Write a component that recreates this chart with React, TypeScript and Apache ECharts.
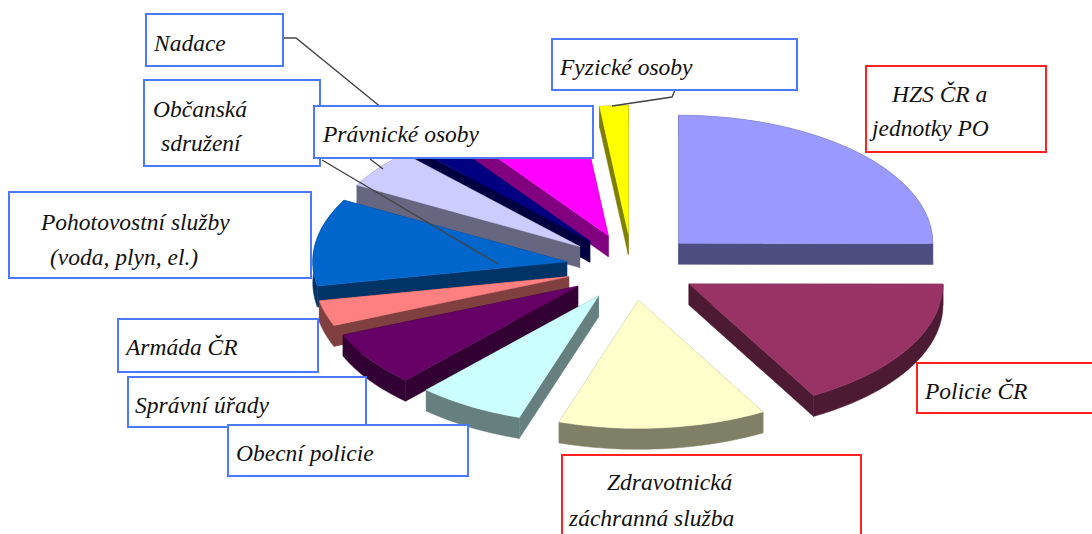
import React, { useEffect, useRef } from "react";
import * as echarts from "echarts";

const categories = ["HZS ČR a jednotky PO", "Policie ČR", "Zdravotnická záchranná služba", "Obecní policie", "Správní úřady", "Armáda ČR", "Pohotovostní služby (voda, plyn, el.)", "Občanská sdružení", "Nadace", "Právnické osoby", "Fyzické osoby"];
const shares = [25, 16.8, 13.2, 6.8, 6.9, 3.2, 11, 4.9, 2.2, 8.1, 1.8];
const topColors = ["#9999FF", "#993366", "#FFFFCC", "#CCFFFF", "#660066", "#FF8080", "#0066CC", "#CCCCFF", "#000080", "#FF00FF", "#FFFF00"];
const wallColors = ["#4D4D80", "#4D1A33", "#808066", "#668080", "#330033", "#804040", "#003366", "#666680", "#000040", "#800080", "#808000"];

const BLUE = "#4D79FF";
const RED = "#FF2020";
const boxes = [
  { x: 146, y: 14, w: 137, h: 52, c: BLUE },
  { x: 144, y: 80, w: 176, h: 86, c: BLUE },
  { x: 9, y: 192, w: 302, h: 86, c: BLUE },
  { x: 118, y: 319, w: 200, h: 53, c: BLUE },
  { x: 128, y: 377, w: 238, h: 50, c: BLUE },
  { x: 228, y: 425, w: 240, h: 51, c: BLUE },
  { x: 314, y: 106, w: 279, h: 52, c: BLUE },
  { x: 552, y: 39, w: 245, h: 51, c: BLUE },
  { x: 866, y: 66, w: 180, h: 86, c: RED },
  { x: 917, y: 363, w: 190, h: 50, c: RED },
  { x: 562, y: 455, w: 299, h: 100, c: RED },
];
const labelLines = ["Nadace", "Občanská", "sdružení", "Pohotovostní služby", "(voda, plyn, el.)", "Armáda ČR", "Správní úřady", "Obecní policie", "Právnické osoby", "Fyzické osoby", "HZS ČR a", "jednotky PO", "Policie ČR", "Zdravotnická", "záchranná služba"];
const labelPos = [[154, 43], [153, 109], [161, 143], [41, 222], [50, 257], [126, 347], [135, 405], [236, 453], [323, 134], [560, 67], [892, 94], [872, 128], [925, 391], [607, 482], [569, 518]];
const leaders = [
  [[283, 38], [296, 38], [382, 108]],
  [[370, 159], [383, 169]],
  [[322, 160], [498, 264]],
  [[675, 90], [672, 97], [612, 106]],
];

const CX = 632, CY = 267, RX = 254, RY = 128, EX = 66, EY = 33.5, DEPTH = 21;
const pt = (ox: number, oy: number, t: number) => [ox + RX * Math.sin(t), oy - RY * Math.cos(t)];

const total = shares.reduce((a, b) => a + b, 0);
const slices = shares.map((v, i) => {
  const before = shares.slice(0, i).reduce((a, b) => a + b, 0);
  return { i, value: v, start: (before / total) * 2 * Math.PI, end: ((before + v) / total) * 2 * Math.PI };
});
const drawOrder = [...slices].sort((a, b) => Math.cos((b.start + b.end) / 2) - Math.cos((a.start + a.end) / 2));

function renderSlice(params: any) {
  const s = drawOrder[params.dataIndex];
  const mid = (s.start + s.end) / 2;
  const ox = CX + EX * Math.sin(mid);
  const oy = CY - EY * Math.cos(mid);
  const steps = Math.max(2, Math.ceil((s.end - s.start) / 0.03));
  const arc: number[][] = [];
  for (let k = 0; k <= steps; k++) arc.push(pt(ox, oy, s.start + ((s.end - s.start) * k) / steps));
  const down = (p: number[]) => [p[0], p[1] + DEPTH];
  const wall = (points: number[][]) => ({
    type: "polygon",
    shape: { points },
    style: { fill: wallColors[s.i], stroke: wallColors[s.i], lineWidth: 0.5 },
  });
  const apex = [ox, oy];
  const first = arc[0], last = arc[arc.length - 1];
  return {
    type: "group",
    children: [
      wall([apex, first, down(first), down(apex)]),
      wall([apex, last, down(last), down(apex)]),
      wall([...arc, ...arc.slice().reverse().map(down)]),
      { type: "polygon", shape: { points: [apex, ...arc] }, style: { fill: topColors[s.i], stroke: topColors[s.i], lineWidth: 0.5 } },
    ],
  };
}

export default function App() {
  const ref = useRef<HTMLDivElement>(null);
  useEffect(() => {
    const chart = echarts.init(ref.current!, null, { renderer: "svg" });
    const graphic: any[] = [];
    leaders.forEach((l) => graphic.push({ type: "polyline", z: 10, shape: { points: l }, style: { stroke: "#444", fill: "none", lineWidth: 1.4 } }));
    boxes.forEach((b, i) => graphic.push({ type: "rect", z: 11 + i * 0.01, shape: { x: b.x, y: b.y, width: b.w, height: b.h }, style: { fill: "#fff", stroke: b.c, lineWidth: 2 } }));
    labelLines.forEach((t, i) => graphic.push({ type: "text", z: 12, style: { text: t, x: labelPos[i][0], y: labelPos[i][1], fill: "#111", font: "italic 23.5px 'Liberation Serif'", textVerticalAlign: "middle", textAlign: "left" } }));
    chart.setOption({
      animation: false,
      backgroundColor: "#fff",
      series: [{
        type: "custom",
        coordinateSystem: "none",
        silent: true,
        renderItem: renderSlice,
        data: drawOrder.map((s) => ({ name: categories[s.i], value: s.value })),
      }],
      graphic,
    });
    return () => chart.dispose();
  }, []);
  return <div ref={ref} style={{ position: "absolute", left: 0, top: 0, width: 1092, height: 534, overflow: "hidden" }} />;
}
